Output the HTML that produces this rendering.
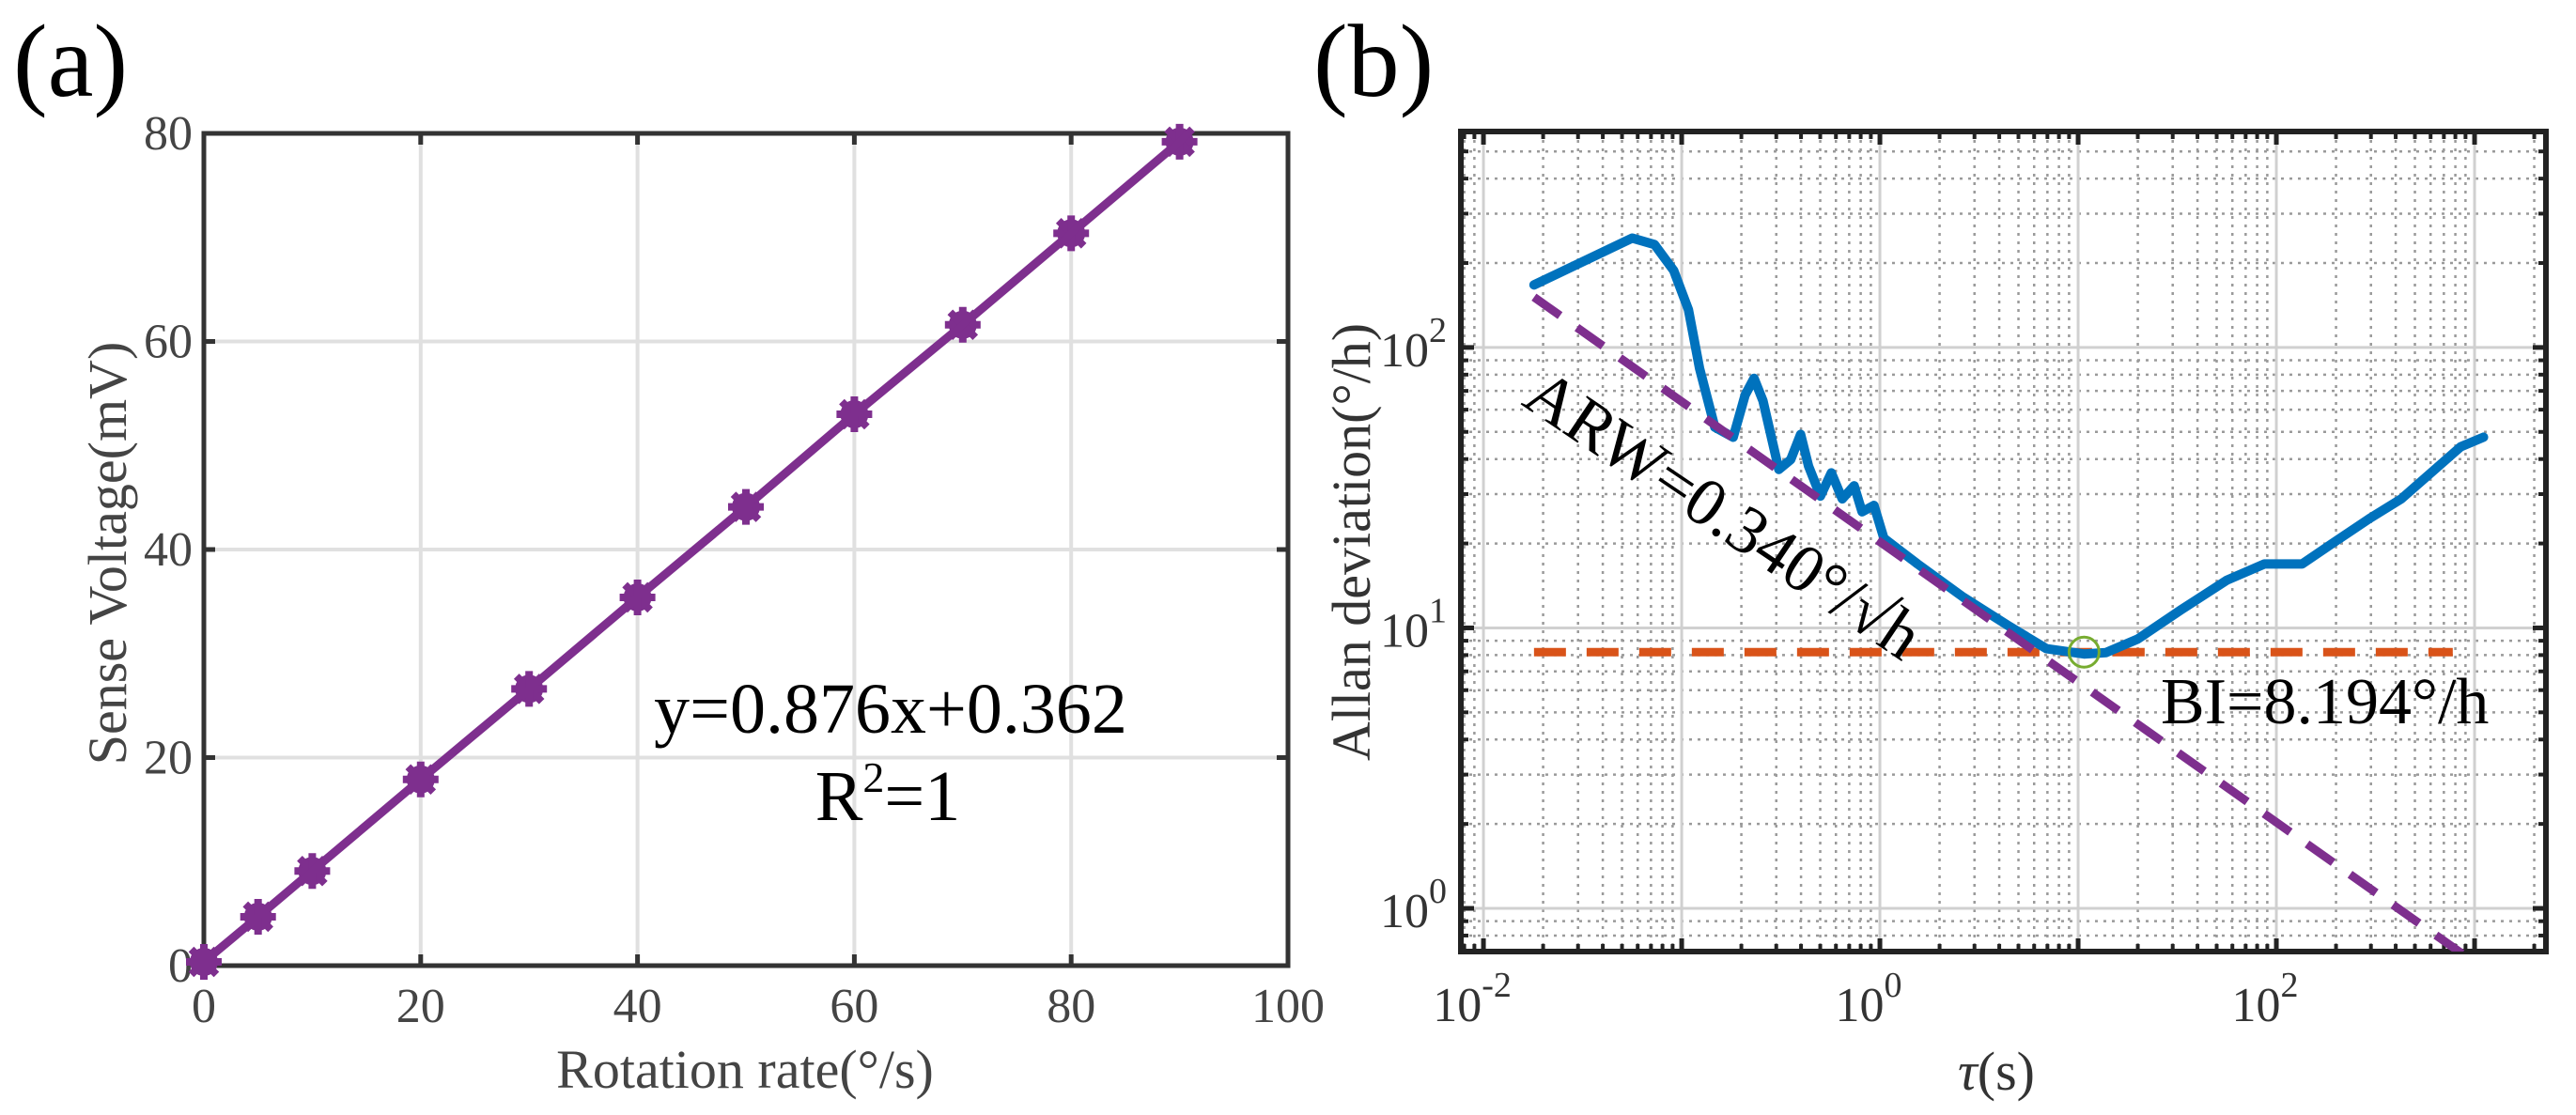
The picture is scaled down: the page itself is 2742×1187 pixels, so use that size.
<!DOCTYPE html>
<html><head><meta charset="utf-8"><style>
body{margin:0;background:#fff}
svg{display:block}
svg text{font-family:"Liberation Serif","DejaVu Serif",serif}
</style></head><body>
<svg id="fig" width="2742" height="1187" viewBox="0 0 2742 1187" xmlns="http://www.w3.org/2000/svg" font-family="Liberation Serif, DejaVu Serif, serif">
<defs><clipPath id="clipb"><rect x="1555" y="140" width="1155" height="873"/></clipPath></defs>
<text x="14" y="102" font-size="110" fill="#000">(a)</text>
<text x="1398" y="102" font-size="110" fill="#000">(b)</text>
<g id="pa"></g>
<g id="pb"></g>
</svg>
<script>
// Panel (a) data
const rateX = [0,5,10,20,30,40,50,60,70,80,90];
const voltY = [0.36,4.7,9.1,17.9,26.6,35.4,44.1,53.0,61.6,70.4,79.2];
const aXTicks = [0,20,40,60,80,100];
const aYTicks = [0,20,40,60,80];
// Panel (b) data
const tauLog = [-1.745,-1.25,-1.137,-1.04,-0.966,-0.91,-0.833,-0.74,-0.68,-0.635,-0.59,-0.51,-0.45,-0.40,-0.36,-0.30,-0.245,-0.19,-0.13,-0.09,-0.03,0.02,0.19,0.42,0.65,0.84,1.03,1.14,1.30,1.52,1.75,1.94,2.13,2.28,2.47,2.63,2.78,2.93,3.045];
const adevLog = [2.223,2.39,2.367,2.274,2.135,1.926,1.716,1.68,1.83,1.89,1.81,1.565,1.60,1.69,1.577,1.47,1.553,1.46,1.507,1.414,1.437,1.32,1.228,1.11,1.007,0.926,0.907,0.912,0.96,1.065,1.17,1.228,1.228,1.30,1.39,1.46,1.553,1.646,1.68];
const arwRange = [-1.745,3.04];
const arwIntercept = [1.307];
const biValue = [8.194];
const biRange = [-1.745,2.89];
const bXTickExp = [-2,0,2];
const bYTickExp = [0,1,2];

const NS="http://www.w3.org/2000/svg";
const FF="Liberation Serif, DejaVu Serif, serif";
function mk(parent,tag,attrs){const e=document.createElementNS(NS,tag);for(const k in attrs)e.setAttribute(k,attrs[k]);if(tag==='text')e.setAttribute('font-family',FF);parent.appendChild(e);return e;}

// ---------- Panel A ----------
const pa=document.getElementById('pa');
const aL=217,aR=1371,aT=142,aB=1028;
const ax=v=>aL+(v-0)/(100-0)*(aR-aL);
const ay=v=>aB-(v-0)/(80-0)*(aB-aT);
aXTicks.forEach(t=>{
  if(t>0&&t<100){const g=mk(pa,'line',{x1:ax(t),x2:ax(t),y1:aT,y2:aB,stroke:'#e0e0e0','stroke-width':4});
  
  }
  mk(pa,'line',{x1:ax(t),x2:ax(t),y1:aB,y2:aB-12,stroke:'#333','stroke-width':5});
  mk(pa,'line',{x1:ax(t),x2:ax(t),y1:aT,y2:aT+12,stroke:'#333','stroke-width':5});
  const l=mk(pa,'text',{x:ax(t),y:1088,'font-size':52,'text-anchor':'middle',fill:'#444'});l.textContent=t;
  
  
});
aYTicks.forEach(t=>{
  if(t>0&&t<80){const g=mk(pa,'line',{x1:aL,x2:aR,y1:ay(t),y2:ay(t),stroke:'#e0e0e0','stroke-width':4});
  
  }
  mk(pa,'line',{x1:aL,x2:aL+12,y1:ay(t),y2:ay(t),stroke:'#333','stroke-width':5});
  mk(pa,'line',{x1:aR,x2:aR-12,y1:ay(t),y2:ay(t),stroke:'#333','stroke-width':5});
  const l=mk(pa,'text',{x:205,y:ay(t)+17,'font-size':52,'text-anchor':'end',fill:'#444'});l.textContent=t;
  
  
});
const fa=mk(pa,'rect',{x:aL,y:aT,width:aR-aL,height:aB-aT,fill:'none',stroke:'#333','stroke-width':5});


const linePts=rateX.map((x,i)=>ax(x)+','+ay(voltY[i])).join(' ');
const la=mk(pa,'polyline',{points:linePts,fill:'none',stroke:'#7e2f8e','stroke-width':9});


rateX.forEach((x,i)=>{
  const g=mk(pa,'g',{transform:`translate(${ax(x)},${ay(voltY[i])})`});
  
  
  mk(g,'circle',{r:15,fill:'#7e2f8e'});
  for(let k=0;k<4;k++){mk(g,'line',{x1:-19,x2:19,y1:0,y2:0,stroke:'#7e2f8e','stroke-width':8,transform:`rotate(${k*45})`});}
});
let t1=mk(pa,'text',{x:948,y:780,'font-size':76,'text-anchor':'middle',fill:'#000'});t1.textContent='y=0.876x+0.362';


let t2=mk(pa,'text',{x:945,y:873,'font-size':76,'text-anchor':'middle',fill:'#000'});
t2.innerHTML='R<tspan font-size="46" dy="-30">2</tspan><tspan dy="30">=1</tspan>';


let t3=mk(pa,'text',{x:793,y:1158,'font-size':58,'text-anchor':'middle',fill:'#444'});t3.textContent='Rotation rate(°/s)';


let t4=mk(pa,'text',{x:0,y:0,'font-size':58,'text-anchor':'middle',fill:'#444',transform:'translate(134,589) rotate(-90)'});t4.textContent='Sense Voltage(mV)';



// ---------- Panel B ----------
const pb=document.getElementById('pb');
const bL=1555,bR=2710,bT=140,bB=1013;
const xMin=-2.114,xMax=3.36,yMin=-0.154,yMax=2.77;
const bx=l=>bL+(l-xMin)/(xMax-xMin)*(bR-bL);
const by=l=>bB-(l-yMin)/(yMax-yMin)*(bB-bT);
for(let d=-3;d<=3;d++)for(let m=2;m<=9;m++){const l=d+Math.log10(m);if(l>xMin&&l<xMax){
  mk(pb,'line',{x1:bx(l),x2:bx(l),y1:bT,y2:bB,stroke:'#9a9a9a','stroke-width':2.5,'stroke-dasharray':'3 6'});
  mk(pb,'line',{x1:bx(l),x2:bx(l),y1:bB,y2:bB-8,stroke:'#222','stroke-width':4});
  mk(pb,'line',{x1:bx(l),x2:bx(l),y1:bT,y2:bT+8,stroke:'#222','stroke-width':4});}}
for(let d=-1;d<=2;d++)for(let m=2;m<=9;m++){const l=d+Math.log10(m);if(l>yMin&&l<yMax){
  mk(pb,'line',{x1:bL,x2:bR,y1:by(l),y2:by(l),stroke:'#9a9a9a','stroke-width':2.5,'stroke-dasharray':'3 6'});
  mk(pb,'line',{x1:bL,x2:bL+8,y1:by(l),y2:by(l),stroke:'#222','stroke-width':4});
  mk(pb,'line',{x1:bR,x2:bR-8,y1:by(l),y2:by(l),stroke:'#222','stroke-width':4});}}
[-2,-1,0,1,2,3].forEach(e=>{
  const g=mk(pb,'line',{x1:bx(e),x2:bx(e),y1:bT,y2:bB,stroke:'#d0d0d0','stroke-width':3});
  
  
  mk(pb,'line',{x1:bx(e),x2:bx(e),y1:bB,y2:bB-14,stroke:'#222','stroke-width':5});
  mk(pb,'line',{x1:bx(e),x2:bx(e),y1:bT,y2:bT+14,stroke:'#222','stroke-width':5});
});
[0,1,2].forEach(e=>{
  const g=mk(pb,'line',{x1:bL,x2:bR,y1:by(e),y2:by(e),stroke:'#d0d0d0','stroke-width':3});
  
  
  mk(pb,'line',{x1:bL,x2:bL+14,y1:by(e),y2:by(e),stroke:'#222','stroke-width':5});
  mk(pb,'line',{x1:bR,x2:bR-14,y1:by(e),y2:by(e),stroke:'#222','stroke-width':5});
});
bXTickExp.forEach(e=>{
  const l=mk(pb,'text',{x:bx(e)-12,y:1087,'font-size':52,'text-anchor':'middle',fill:'#333'});
  l.innerHTML='10<tspan font-size="38" dy="-26">'+e+'</tspan>';
  
  
});
bYTickExp.forEach(e=>{
  const l=mk(pb,'text',{x:1540,y:by(e)+20,'font-size':52,'text-anchor':'end',fill:'#333'});
  l.innerHTML='10<tspan font-size="38" dy="-26">'+e+'</tspan>';
  
  
});
const fb=mk(pb,'rect',{x:bL,y:bT,width:bR-bL,height:bB-bT,fill:'none',stroke:'#222','stroke-width':6});


const bi=mk(pb,'line',{x1:bx(biRange[0]),x2:bx(biRange[1]),y1:by(Math.log10(biValue[0])),y2:by(Math.log10(biValue[0])),stroke:'#d95319','stroke-width':9,'stroke-dasharray':'34 22'});


const cp=tauLog.map((t,i)=>bx(t)+','+by(adevLog[i])).join(' ');
const cv=mk(pb,'polyline',{points:cp,fill:'none',stroke:'#0072bd','stroke-width':10,'stroke-linejoin':'round','stroke-linecap':'round'});


const a0=arwIntercept[0];
const arw=mk(pb,'line',{x1:bx(arwRange[0]),y1:by(a0-0.5*arwRange[0]),x2:bx(arwRange[1]),y2:by(a0-0.5*arwRange[1]),stroke:'#7e2f8e','stroke-width':9,'stroke-dasharray':'34 22','clip-path':'url(#clipb)'});


const mc=mk(pb,'circle',{cx:bx(1.03),cy:by(Math.log10(biValue[0])),r:16,fill:'none',stroke:'#77ac30','stroke-width':3});


let b1=mk(pb,'text',{x:0,y:0,'font-size':72,fill:'#000',transform:'translate(1618,430) rotate(34)'});b1.textContent='ARW=0.340°/√h';


let b2=mk(pb,'text',{x:2300,y:770,'font-size':70,fill:'#000'});b2.textContent='BI=8.194°/h';


let b3=mk(pb,'text',{x:2125,y:1160,'font-size':58,'text-anchor':'middle',fill:'#333'});
b3.innerHTML='<tspan font-style="italic">τ</tspan>(s)';


let b4=mk(pb,'text',{x:0,y:0,'font-size':58,'text-anchor':'middle',fill:'#333',transform:'translate(1458,577) rotate(-90)'});b4.textContent='Allan deviation(°/h)';


</script>
</body></html>
